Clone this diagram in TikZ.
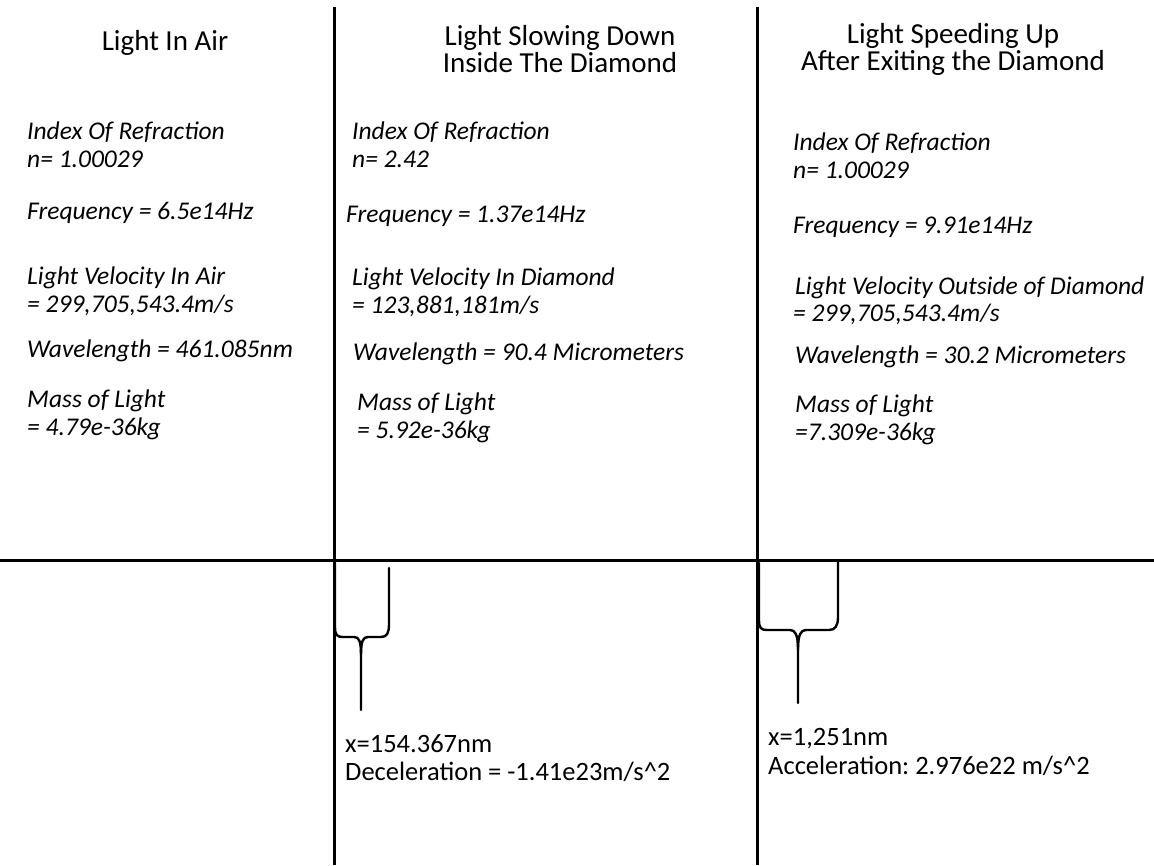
\documentclass[tikz,border=0pt]{standalone}
\usepackage{fontspec}
\setmainfont{Carlito}
\frenchspacing
\begin{document}
\begin{tikzpicture}[x=1pt,y=-1pt,
  rule/.style={line width=3pt,black},
  brace/.style={line width=2.4pt,black,line cap=round,line join=round},
  head/.style={inner sep=0pt,align=center,font=\fontsize{29}{27}\selectfont},
  body/.style={inner sep=0pt,anchor=mid west,yshift=-5pt,font=\fontsize{25.5}{28}\selectfont\itshape},
  note/.style={inner sep=0pt,anchor=mid west,yshift=-5pt,font=\fontsize{26.5}{28}\selectfont}]
\useasboundingbox (0,0) rectangle (1154,865);
% dividing lines
\coordinate (v1t) at (334,7); \coordinate (v1b) at (334,865);
\coordinate (v2t) at (757,7); \coordinate (v2b) at (757,865);
\coordinate (hl) at (0,560); \coordinate (hr) at (1154,560);
\draw[rule] (v1t) -- (v1b);
\draw[rule] (v2t) -- (v2b);
\draw[rule] (hl) -- (hr);
% headings
\node[head] (h1) at (165,43) {Light In Air};
\node[head] (h2) at (560,49) {Light Slowing Down\\Inside The Diamond};
\node[head] (h3) at (953,49) {Light Speeding Up\\After Exiting the Diamond};
% column 1
\node[body] (a1) at (27,132) {Index Of Refraction};
\node[body] (a2) at (27,160) {n= 1.00029};
\node[body] (a3) at (27,212) {Frequency = 6.5e14Hz};
\node[body] (a4) at (27,277) {Light Velocity In Air};
\node[body] (a5) at (27,305) {= 299,705,543.4m/s};
\node[body] (a6) at (27,350) {Wavelength = 461.085nm};
\node[body] (a7) at (27,400) {Mass of Light};
\node[body] (a8) at (27,428) {= 4.79e-36kg};
% column 2
\node[body] (b1) at (352,132) {Index Of Refraction};
\node[body] (b2) at (352,160) {n= 2.42};
\node[body] (b3) at (346,215) {Frequency = 1.37e14Hz};
\node[body] (b4) at (352,278) {Light Velocity In Diamond};
\node[body] (b5) at (352,306) {= 123,881,181m/s};
\node[body] (b6) at (353,353) {Wavelength = 90.4 Micrometers};
\node[body] (b7) at (357,403) {Mass of Light};
\node[body] (b8) at (357,431) {= 5.92e-36kg};
% column 3
\node[body] (c1) at (793,143) {Index Of Refraction};
\node[body] (c2) at (793,171) {n= 1.00029};
\node[body] (c3) at (793,226) {Frequency = 9.91e14Hz};
\node[body] (c4) at (795,287) {Light Velocity Outside of Diamond};
\node[body] (c5) at (793,314) {= 299,705,543.4m/s};
\node[body] (c6) at (795,356) {Wavelength = 30.2 Micrometers};
\node[body] (c7) at (795,405) {Mass of Light};
\node[body] (c8) at (795,433) {=7.309e-36kg};
% brace 1
\draw[brace] (335,563) -- (335,627) .. controls (335,635) and (337,637) .. (343,637)
  -- (354,637) .. controls (359,637) and (361,641) .. (361,655) -- (361,710);
\draw[brace] (361,655) .. controls (361,641) and (363,637) .. (368,637)
  -- (381,637) .. controls (387,637) and (389,633) .. (389,624) -- (389,568);
% brace 2
\draw[brace] (759,563) -- (759,620) .. controls (759,628) and (761,630) .. (767,630)
  -- (790,630) .. controls (795,630) and (798,634) .. (798,650) -- (798,703);
\draw[brace] (798,650) .. controls (798,634) and (801,630) .. (806,630)
  -- (829,630) .. controls (835,630) and (838,626) .. (838,617) -- (838,562);
% bottom notes
\node[note] (d1) at (345,745) {x=154.367nm};
\node[note] (d2) at (345,773) {Deceleration = -1.41e23m/s\^{}2};
\node[note] (e1) at (768,738) {x=1,251nm};
\node[note] (e2) at (768,767) {Acceleration: 2.976e22 m/s\^{}2};
\end{tikzpicture}
\end{document}
